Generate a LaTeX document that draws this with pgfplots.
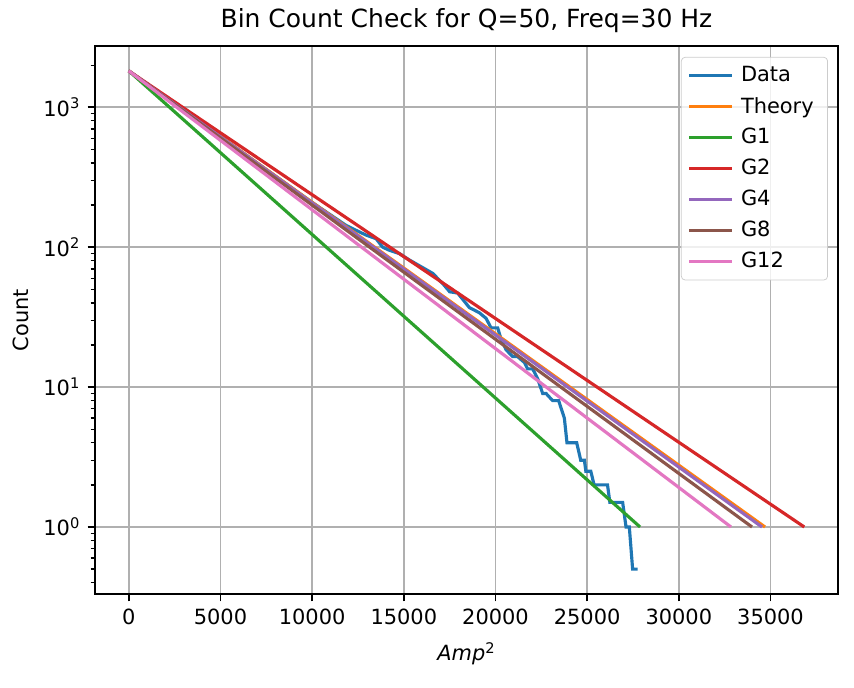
\documentclass[border=0pt]{standalone}
\usepackage{fontspec}
\setmainfont{DejaVu Sans}
\usepackage{pgfplots}
\pgfplotsset{compat=1.18}
\definecolor{c0}{HTML}{1F77B4}
\definecolor{c1}{HTML}{FF7F0E}
\definecolor{c2}{HTML}{2CA02C}
\definecolor{c3}{HTML}{D62728}
\definecolor{c4}{HTML}{9467BD}
\definecolor{c5}{HTML}{8C564B}
\definecolor{c6}{HTML}{E377C2}
\definecolor{gridc}{HTML}{B0B0B0}
\definecolor{legc}{HTML}{CCCCCC}
\begin{document}
\fontsize{11.3}{13.5}\selectfont
\begin{tikzpicture}[font=\fontsize{11.3}{13.5}\selectfont]
\begin{axis}[
  scale only axis, width=401.2pt, height=295.9pt,
  ymode=log,
  xmin=-1842, xmax=38682, ymin=0.332, ymax=2742,
  xtick={0,5000,10000,15000,20000,25000,30000,35000},
  scaled x ticks=false,
  xticklabel style={/pgf/number format/1000 sep={}},
  /pgf/number format/assume math mode=true,
  ticklabel style={font=\fontsize{11.3}{13.5}\selectfont},
  ytick={1,10,100,1000},
  yticklabels={10\textsuperscript{0},10\textsuperscript{1},10\textsuperscript{2},10\textsuperscript{3}},
  minor ytick={0.4,0.5,0.6,0.7,0.8,0.9,2,3,4,5,6,7,8,9,20,30,40,50,60,70,80,90,200,300,400,500,600,700,800,900,2000},
  grid=major,
  major grid style={color=gridc, line width=0.9pt},
  tick align=outside, tick pos=left,
  major tick length=4pt, minor tick length=2.3pt,
  every tick/.style={black, line width=0.9pt},
  minor tick style={black, line width=0.7pt},
  axis line style={line width=0.9pt},
  every axis plot/.append style={line width=1.7pt},
  title={Bin Count Check for Q=50, Freq=30 Hz},
  title style={font=\fontsize{13.5}{16}\selectfont, yshift=-3pt},
  xlabel={\textit{Amp}\textsuperscript{2}},
  xlabel style={font=\fontsize{11.3}{13.5}\selectfont, yshift=-2pt},
  ylabel={Count},
  ylabel style={font=\fontsize{11.3}{13.5}\selectfont},
  legend cell align=left,
  legend style={at={(0.9865,0.98)}, anchor=north east, draw=legc, rounded corners=2pt,
    fill=white, fill opacity=0.8, text opacity=1, font=\fontsize{11.3}{13.5}\selectfont,
    row sep=2.6pt, inner xsep=3.5pt, inner ysep=3pt,
    nodes={inner xsep=4pt}},
  legend image code/.code={\draw[#1, line width=1.7pt] (0pt,0pt) -- (23pt,0pt);},
]
\addplot[c0] coordinates {
(0,1820) (5000,617) (10000,209) (11854,143) (12399,132) (12944,122) (13490,115)
(13850,100) (14215,95) (14760,90) (15305,81) (16576,65) (17121,55) (17503,48)
(17939,47) (18577,37) (19122,34) (19488,31) (19760,26.5) (20120,26.5) (20305,22)
(20578,18.5) (20938,16.5) (21210,16.5) (21576,15) (21756,13.5) (22028,13.5)
(22301,11.5) (22574,9) (22759,9) (23119,8) (23446,8) (23757,6) (23900,4)
(24430,4) (24650,3) (24850,3) (24930,2.5) (25200,2.5) (25380,2) (26110,2)
(26240,1.5) (26936,1.5) (27121,1) (27300,1) (27480,0.5) (27754,0.5)
};
\addlegendentry{Data}
\addplot[c1] coordinates {(0,1820) (34700,1)};
\addlegendentry{Theory}
\addplot[c2] coordinates {(0,1820) (27885,1)};
\addlegendentry{G1}
\addplot[c3] coordinates {(0,1820) (36843,1)};
\addlegendentry{G2}
\addplot[c4] coordinates {(0,1820) (34536,1)};
\addlegendentry{G4}
\addplot[c5] coordinates {(0,1820) (33991,1)};
\addlegendentry{G8}
\addplot[c6] coordinates {(0,1820) (32846,1)};
\addlegendentry{G12}
\end{axis}
\pgfresetboundingbox
\path ([xshift=-51.3pt, yshift=-50.76pt]current axis.south west) rectangle ([xshift=8.64pt, yshift=24.84pt]current axis.north east);
\end{tikzpicture}
\end{document}
